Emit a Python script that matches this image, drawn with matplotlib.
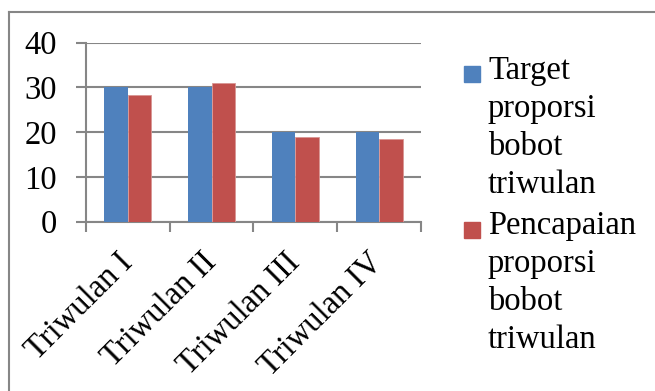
import numpy as np
import matplotlib.pyplot as plt
import matplotlib.transforms as mtransforms
from matplotlib.lines import Line2D
from matplotlib.patches import Rectangle

plt.rcParams['font.family'] = ['Liberation Serif', 'DejaVu Serif']

# Daten pro Triwulan
kategorien = ["Triwulan I", "Triwulan II", "Triwulan III", "Triwulan IV"]
target = [30, 30, 20, 20]
pencapaian = [28.3, 31, 18.9, 18.4]
label_target = "Target\nproporsi\nbobot\ntriwulan"
label_pencapaian = "Pencapaian\nproporsi\nbobot\ntriwulan"

biru = "#4F81BD"
merah = "#C0504D"
abu = "#868686"
fs = 23.5

W, H = 655, 391
fig = plt.figure(figsize=(W / 100, H / 100), dpi=100)
ax = fig.add_axes([0.1313, 0.433, 0.5114, 0.4578])

x = np.arange(len(kategorien))
lebar = 0.28
ax.bar(x - lebar / 2, target, lebar, color=biru, zorder=3)
ax.bar(x + lebar / 2, pencapaian, lebar, color=merah,
       edgecolor="#D99694", linewidth=0.6, zorder=3)

ax.set_xlim(-0.5, len(kategorien) - 0.5)
ax.set_ylim(0, 40)
ax.set_yticks([0, 10, 20, 30, 40])
ax.yaxis.grid(True, color=abu, linewidth=1.5, zorder=0)

# Kategorie-Beschriftung zwischen den Ticks
ax.set_xticks(np.arange(len(kategorien) + 1) - 0.5)
ax.set_xticklabels([])
ax.set_xticks(x, minor=True)
ax.set_xticklabels(kategorien, minor=True, rotation=45, ha="right", va="top",
                   rotation_mode="anchor", fontsize=fs)
ax.tick_params(axis="x", which="minor", length=0, pad=6)
ax.tick_params(axis="x", which="major", length=7, width=1.5, color=abu, direction="out")
ax.tick_params(axis="y", length=7, width=1.5, color=abu, pad=14, labelsize=fs)

geser = mtransforms.ScaledTranslation(-11 / 100, -17 / 100, fig.dpi_scale_trans)
for lbl in ax.get_xticklabels(minor=True):
    lbl.set_transform(lbl.get_transform() + geser)

for s in ["top", "right"]:
    ax.spines[s].set_visible(False)
for s in ["left", "bottom"]:
    ax.spines[s].set_color(abu)
    ax.spines[s].set_linewidth(1.5)

# Legende rechts: Kästchen + mehrzeiliger Text (Grundlinie der letzten Zeile)
for warna, teks, y_kotak, y_akhir in [(biru, label_target, 82, 193),
                                      (merah, label_pencapaian, 238, 348.3)]:
    fig.add_artist(Rectangle((464 / W, 1 - y_kotak / H), 16 / W, 16 / H,
                             transform=fig.transFigure, color=warna))
    fig.text(488 / W, 1 - y_akhir / H, teks, fontsize=fs, ha="left", va="baseline",
             linespacing=1.32)

# Rahmen um die Grafik
fig.add_artist(Line2D([9 / W, 9 / W], [0, 1 - 12 / H], transform=fig.transFigure,
                      color=abu, linewidth=1.5))
fig.add_artist(Line2D([9 / W, 1], [1 - 12 / H, 1 - 12 / H], transform=fig.transFigure,
                      color=abu, linewidth=1.5))

fig.savefig("out.png", dpi=100)
